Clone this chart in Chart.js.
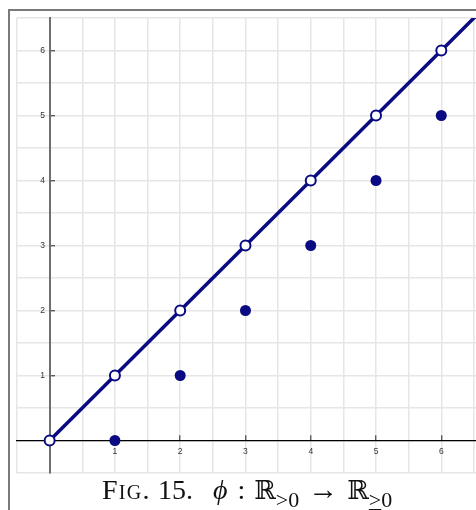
<!DOCTYPE html>
<html>
<head>
<meta charset="utf-8">
<script src="https://cdn.jsdelivr.net/npm/chart.js@4"></script>
<style>
  html, body { margin: 0; padding: 0; background: #fff; width: 476px; height: 510px; overflow: hidden; }
  #frame { position: absolute; left: 8px; top: 9px; width: 600px; height: 600px;
           border-left: 2px solid #7a7a7a; border-top: 2px solid #7a7a7a; }
  #wrap { position: absolute; left: 0; top: 0; width: 476px; height: 510px; overflow: hidden; }
  #caption { position: absolute; left: 102px; top: 472px; text-align: left;
             font-family: "Liberation Serif", "DejaVu Serif", serif; font-size: 28px; color: #111; white-space: nowrap; }
  #caption .sc { font-variant: small-caps; letter-spacing: 1.3px; }
  #caption sub { font-size: 22px; vertical-align: -8px; line-height: 0; }
  #caption .bb { font-family: "DejaVu Serif", serif; font-size: 26px; }
  #caption .arr { font-size: 30px; }
  #caption .gap { display: inline-block; }
</style>
</head>
<body>
<div id="frame"></div>
<div id="wrap"><canvas id="grafico" width="486" height="510"></canvas></div>
<div id="caption"><span class="sc">Fig.</span> 15.<span class="gap" style="width:20px"></span><i>ϕ</i><span class="gap" style="width:10px"></span>:<span class="gap" style="width:9px"></span><span class="bb">ℝ</span><sub>&gt;0</sub><span class="gap" style="width:9px"></span><span class="arr">→</span><span class="gap" style="width:9px"></span><span class="bb">ℝ</span><sub><u>&gt;</u>0</sub></div>
<script>
// identity y = x, with open circles at the integers
const lineX = [0, 7];
const pointX = [0, 1, 2, 3, 4, 5, 6];
// phi(n) = n - 1, filled dots
const phiX = [1, 2, 3, 4, 5, 6];
const phiY = [0, 1, 2, 3, 4, 5];
const tickLabels = ['1', '2', '3', '4', '5', '6'];

const navy = '#0a0a82';

document.addEventListener('DOMContentLoaded', () => {
    const ctx = document.getElementById('grafico').getContext('2d');

    const showTick = (ctxTick) => {
        const v = ctxTick.tick ? ctxTick.tick.value : null;
        return v !== null && Number.isInteger(v) && v > 0;
    };

    const axisCommon = {
        type: 'linear',
        grid: {
            color: '#e6e6e6',
            lineWidth: 1.5,
            tickLength: -6,
            tickWidth: 1.2,
            tickColor: (c) => showTick(c) ? '#444' : 'rgba(0,0,0,0)'
        },
        ticks: {
            stepSize: 0.5,
            includeBounds: false,
            autoSkip: false,
            maxRotation: 0,
            color: '#333',
            font: { family: 'Liberation Sans, Arial, sans-serif', size: 8.5 }
        }
    };

    new Chart(ctx, {
        type: 'scatter',
        data: {
            datasets: [
                {
                    data: pointX.map(v => ({ x: v, y: v })),
                    pointRadius: 5,
                    pointBorderWidth: 2,
                    pointBackgroundColor: '#fff',
                    pointBorderColor: navy,
                    order: 0
                },
                {
                    data: phiX.map((v, i) => ({ x: v, y: phiY[i] })),
                    pointRadius: 5.5,
                    pointBorderWidth: 0,
                    pointBackgroundColor: navy,
                    pointBorderColor: navy,
                    order: 1
                },
                {
                    type: 'line',
                    data: lineX.map(v => ({ x: v, y: v })),
                    borderColor: navy,
                    borderWidth: 3.5,
                    pointRadius: 0,
                    fill: false,
                    order: 2
                }
            ]
        },
        options: {
            responsive: false,
            animation: false,
            layout: { padding: { left: 17, top: 18, right: 0, bottom: 37 } },
            plugins: { legend: { display: false }, tooltip: { enabled: false } },
            scales: {
                x: {
                    ...axisCommon,
                    position: { y: 0 },
                    min: -0.5,
                    max: 6.56,
                    border: { color: '#000', width: 1.3 },
                    ticks: {
                        ...axisCommon.ticks,
                        padding: 12,
                        callback: (v) => (Number.isInteger(v) && v > 0) ? tickLabels[v - 1] : ''
                    }
                },
                y: {
                    ...axisCommon,
                    position: { x: 0 },
                    min: -0.5,
                    max: 6.5,
                    border: { color: '#6e6e6e', width: 2 },
                    ticks: {
                        ...axisCommon.ticks,
                        callback: (v) => (Number.isInteger(v) && v > 0) ? tickLabels[v - 1] + '  ' : ''
                    }
                }
            }
        }
    });
});
</script>
</body>
</html>
